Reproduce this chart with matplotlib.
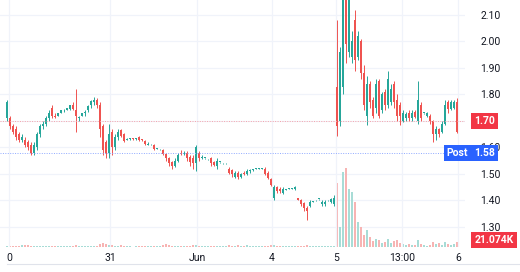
import numpy as np
import matplotlib
matplotlib.use("Agg")
import matplotlib.pyplot as plt
from matplotlib.lines import Line2D
import matplotlib.transforms as mtransforms

plt.rcParams['font.family'] = ['Roboto', 'DejaVu Sans']

# OHLC per bar
opens = [1.71, 1.71, 1.68, 1.67, 1.65, 1.63, 1.63, 1.62, 1.61, 1.58,
         1.60, 1.65, 1.68, 1.69, 1.71, 1.75, 1.72, 1.72, 1.73, 1.74,
         1.74, 1.745, 1.76, 1.74, 1.71, 1.72, 1.73, 1.74, 1.76, 1.77,
         1.78, 1.76, 1.68, 1.62, 1.58,
         1.66, 1.60, 1.64, 1.665, 1.65, 1.63, 1.632, 1.634, 1.632, 1.64,
         1.63, 1.625, 1.61, 1.612, 1.61, 1.595, 1.593, 1.59, 1.575, 1.56,
         1.545, 1.53, 1.55, 1.58, 1.575, 1.58, 1.565, 1.56, 1.54,
         1.58, 1.56, 1.56, 1.555, 1.56, 1.545, 1.53, 1.545, 1.54, 1.54,
         1.52, 1.515, 1.49, 1.505, 1.49, 1.505, 1.50, 1.51, 1.515, 1.52,
         1.52, 1.52, 1.52, 1.505, 1.48, 1.41, 1.45, 1.445, 1.43, 1.44,
         1.445, 1.445, 1.445, 1.41, 1.40, 1.39, 1.37, 1.38, 1.395, 1.40,
         1.405, 1.385, 1.385, 1.40, 1.395, 1.385,
         1.83, 1.70, 1.83, 2.20, 1.96, 1.94, 2.08, 1.94, 2.00, 1.88,
         1.72, 1.84, 1.78, 1.75, 1.85, 1.74, 1.81, 1.76, 1.77, 1.84,
         1.78, 1.76, 1.70, 1.71, 1.73, 1.71, 1.735, 1.70, 1.76, 1.73,
         1.72, 1.72, 1.70, 1.65, 1.67, 1.66, 1.69, 1.77, 1.745, 1.75,
         1.77]
highs = [1.78, 1.72, 1.69, 1.68, 1.66, 1.65, 1.64, 1.63, 1.62, 1.62,
         1.66, 1.69, 1.70, 1.72, 1.74, 1.76, 1.73, 1.73, 1.74, 1.745,
         1.75, 1.76, 1.77, 1.82, 1.72, 1.73, 1.74, 1.76, 1.78, 1.79,
         1.785, 1.77, 1.69, 1.63, 1.69,
         1.67, 1.65, 1.67, 1.67, 1.655, 1.635, 1.636, 1.636, 1.636, 1.645,
         1.632, 1.63, 1.62, 1.614, 1.615, 1.597, 1.595, 1.595, 1.58, 1.565,
         1.55, 1.56, 1.58, 1.59, 1.585, 1.585, 1.57, 1.57, 1.61,
         1.585, 1.57, 1.562, 1.557, 1.565, 1.55, 1.56, 1.547, 1.542, 1.542,
         1.525, 1.52, 1.51, 1.51, 1.505, 1.51, 1.52, 1.52, 1.517, 1.522,
         1.522, 1.522, 1.525, 1.51, 1.485, 1.46, 1.455, 1.45, 1.45, 1.442,
         1.447, 1.447, 1.455, 1.41, 1.405, 1.395, 1.38, 1.40, 1.397, 1.402,
         1.407, 1.40, 1.40, 1.402, 1.41, 1.42,
         2.08, 1.98, 2.20, 2.20, 2.20, 2.04, 2.12, 2.04, 2.01, 1.91,
         1.87, 1.85, 1.79, 1.86, 1.86, 1.81, 1.82, 1.89, 1.84, 1.85,
         1.80, 1.77, 1.74, 1.735, 1.74, 1.74, 1.74, 1.85, 1.77, 1.732,
         1.735, 1.725, 1.705, 1.68, 1.675, 1.70, 1.78, 1.78, 1.78, 1.78,
         1.785]
lows = [1.70, 1.67, 1.65, 1.63, 1.62, 1.62, 1.60, 1.59, 1.57, 1.57,
        1.59, 1.64, 1.67, 1.68, 1.70, 1.71, 1.71, 1.72, 1.73, 1.735,
        1.74, 1.74, 1.74, 1.66, 1.70, 1.72, 1.72, 1.735, 1.75, 1.76,
        1.75, 1.64, 1.57, 1.56, 1.56,
        1.57, 1.59, 1.63, 1.64, 1.62, 1.628, 1.630, 1.630, 1.630, 1.625,
        1.626, 1.61, 1.61, 1.610, 1.59, 1.593, 1.591, 1.57, 1.55, 1.53,
        1.52, 1.525, 1.545, 1.57, 1.57, 1.55, 1.53, 1.52, 1.51,
        1.55, 1.555, 1.558, 1.553, 1.53, 1.53, 1.52, 1.543, 1.538, 1.538,
        1.50, 1.49, 1.485, 1.48, 1.485, 1.495, 1.495, 1.505, 1.513, 1.518,
        1.518, 1.518, 1.495, 1.48, 1.455, 1.40, 1.43, 1.43, 1.425, 1.438,
        1.443, 1.443, 1.44, 1.40, 1.38, 1.36, 1.325, 1.375, 1.393, 1.398,
        1.403, 1.38, 1.38, 1.398, 1.39, 1.38,
        1.645, 1.68, 1.80, 1.92, 1.94, 1.92, 1.89, 1.93, 1.86, 1.74,
        1.685, 1.75, 1.71, 1.73, 1.71, 1.73, 1.74, 1.75, 1.76, 1.75,
        1.70, 1.685, 1.695, 1.70, 1.70, 1.70, 1.71, 1.69, 1.70, 1.728,
        1.715, 1.69, 1.62, 1.63, 1.64, 1.655, 1.685, 1.73, 1.74, 1.745,
        1.655]
closes = [1.77, 1.68, 1.66, 1.64, 1.63, 1.64, 1.61, 1.60, 1.58, 1.61,
          1.65, 1.68, 1.69, 1.71, 1.73, 1.72, 1.715, 1.73, 1.74, 1.74,
          1.75, 1.76, 1.745, 1.72, 1.715, 1.73, 1.735, 1.755, 1.775, 1.78,
          1.76, 1.67, 1.59, 1.58, 1.65,
          1.60, 1.64, 1.66, 1.645, 1.625, 1.632, 1.634, 1.632, 1.635, 1.63,
          1.628, 1.612, 1.615, 1.612, 1.595, 1.595, 1.593, 1.575, 1.56, 1.54,
          1.53, 1.55, 1.57, 1.575, 1.58, 1.56, 1.545, 1.54, 1.60,
          1.56, 1.565, 1.56, 1.555, 1.54, 1.535, 1.55, 1.545, 1.54, 1.54,
          1.505, 1.50, 1.505, 1.49, 1.50, 1.50, 1.51, 1.515, 1.515, 1.52,
          1.52, 1.52, 1.50, 1.485, 1.46, 1.45, 1.435, 1.435, 1.445, 1.44,
          1.445, 1.445, 1.45, 1.40, 1.385, 1.37, 1.36, 1.395, 1.395, 1.40,
          1.405, 1.395, 1.395, 1.40, 1.405, 1.41,
          1.68, 1.96, 2.20, 1.99, 2.20, 2.00, 1.93, 2.02, 1.88, 1.76,
          1.84, 1.77, 1.72, 1.84, 1.72, 1.80, 1.76, 1.86, 1.82, 1.77,
          1.72, 1.72, 1.73, 1.725, 1.71, 1.73, 1.715, 1.78, 1.71, 1.73,
          1.73, 1.70, 1.65, 1.67, 1.65, 1.69, 1.76, 1.745, 1.77, 1.77,
          1.66]
# volume per bar, thousands
volumes = [6, 4, 5, 4, 6, 8, 10, 9, 6, 5,
           5, 4, 4, 5, 4, 3, 3, 4, 3, 3,
           3, 4, 5, 9, 4, 3, 3, 4, 5, 4,
           5, 12, 17, 14, 10, 8, 5, 6, 9, 5,
           3, 3, 2, 3, 4, 3, 4, 3, 3, 5,
           4, 5, 8, 11, 7, 6, 5, 4, 3, 4,
           5, 6, 7, 9, 5, 4, 3, 3, 5, 4,
           5, 3, 3, 3, 8, 6, 5, 7, 5, 4,
           10, 6, 4, 3, 3, 3, 5, 6, 7, 8,
           5, 4, 4, 3, 3, 3, 3, 5, 5, 5,
           7, 4, 3, 3, 3, 4, 4, 3, 4, 6,
           269, 84, 315, 332, 244, 231, 189, 105, 84, 50,
           71, 42, 25, 34, 29, 17, 21, 34, 17, 25,
           29, 17, 13, 8, 13, 8, 8, 29, 13, 8,
           4, 8, 21, 13, 17, 8, 21, 13, 8, 13,
           21.074]

tick_pos = [0.67, 34.33, 63.33, 88.33, 109.67, 131.67, 150.33]
tick_labels = ["0", "31", "Jun", "4", "5", "13:00", "6"]
price_ticks = [1.30, 1.40, 1.50, 1.60, 1.70, 1.80, 1.90, 2.00, 2.10]
last_price = 1.70
post_price = 1.58
last_volume = "21.074K"

UP = "#26a69a"
DOWN = "#ef5350"
TXT = "#131722"
GRID = "#f0f3fa"

o = np.array(opens); h = np.array(highs); l = np.array(lows); c = np.array(closes)
v = np.array(volumes)
x = np.arange(len(o))
up = c >= o
colors = np.where(up, UP, DOWN)

fig = plt.figure(figsize=(5.2, 2.72), dpi=100)
rect = [0, 25 / 272, 465 / 520, 247 / 272]
axv = fig.add_axes(rect)
ax = fig.add_axes(rect, sharex=axv)
ax.patch.set_visible(False)

# volume
vcol = np.where(up, "#a8dcd6", "#f7b4b3")
axv.bar(x, v, width=0.6, color=vcol, linewidth=0)
axv.set_ylim(0, 1037)
axv.set_yticks([])
for s in axv.spines.values():
    s.set_visible(False)
axv.set_xticks(tick_pos)
axv.set_xticklabels(tick_labels)
axv.tick_params(axis='x', length=0, pad=4, labelsize=7.5, colors=TXT)
axv.grid(True, axis='x', color=GRID, linewidth=0.9)
for p in price_ticks:
    axv.axhline((p - 1.2245) / (2.1566 - 1.2245) * 1037, color=GRID, linewidth=0.9, zorder=0)

# candles
ax.vlines(x, l, h, colors=colors, linewidth=0.7)
body_low = np.minimum(o, c)
body_h = np.maximum(np.abs(c - o), 0.003)
ax.bar(x, body_h, bottom=body_low, width=0.55, color=colors, linewidth=0)

ax.set_xlim(-7 / 3, (465 - 7) / 3)
ax.set_ylim(1.2245, 2.1566)
for s in ax.spines.values():
    s.set_visible(False)
ax.tick_params(axis='x', bottom=False, labelbottom=False)
ax.yaxis.tick_right()
ax.set_yticks(price_ticks)
# the 1.70 label sits under the last-price tag
ax.set_yticklabels(["" if p == last_price else f"{p:.2f}" for p in price_ticks])
ax.tick_params(axis='y', length=0, pad=11, labelsize=7.5, colors=TXT)

ax.axhline(last_price, color="#f7a1a8", linestyle=(0, (1, 1.5)), linewidth=0.7)
ax.axhline(post_price, color="#8fa9ff", linestyle=(0, (1, 1.5)), linewidth=0.7)

trans = mtransforms.blended_transform_factory(ax.transAxes, ax.transData)
box = dict(boxstyle="square,pad=0.3", linewidth=0)
ax.text(1.02, last_price, f"{last_price:.2f}", transform=trans, color="white",
        fontsize=7.5, fontweight="bold", va="center", ha="left",
        bbox=dict(box, facecolor="#f23645"), clip_on=False, zorder=5)
ax.text(1.02, post_price, f"{post_price:.2f}", transform=trans, color="white",
        fontsize=7.5, fontweight="bold", va="center", ha="left",
        bbox=dict(box, facecolor="#2962ff"), clip_on=False, zorder=6)
ax.text(1.007, post_price, "Post", transform=trans, color="white",
        fontsize=7.5, fontweight="bold", va="center", ha="right",
        bbox=dict(box, facecolor="#2962ff"), clip_on=False, zorder=5)
vtrans = mtransforms.blended_transform_factory(axv.transAxes, axv.transData)
ax.text(1.02, 28, last_volume, transform=vtrans, color="white",
        fontsize=7.5, fontweight="bold", va="center", ha="left",
        bbox=dict(box, facecolor="#f23645"), clip_on=False, zorder=5)

fig.add_artist(Line2D([7 / 520, 1], [1 - 264 / 272] * 2, color="#e0e3eb", linewidth=0.8))

fig.savefig("out.png", dpi=100)
